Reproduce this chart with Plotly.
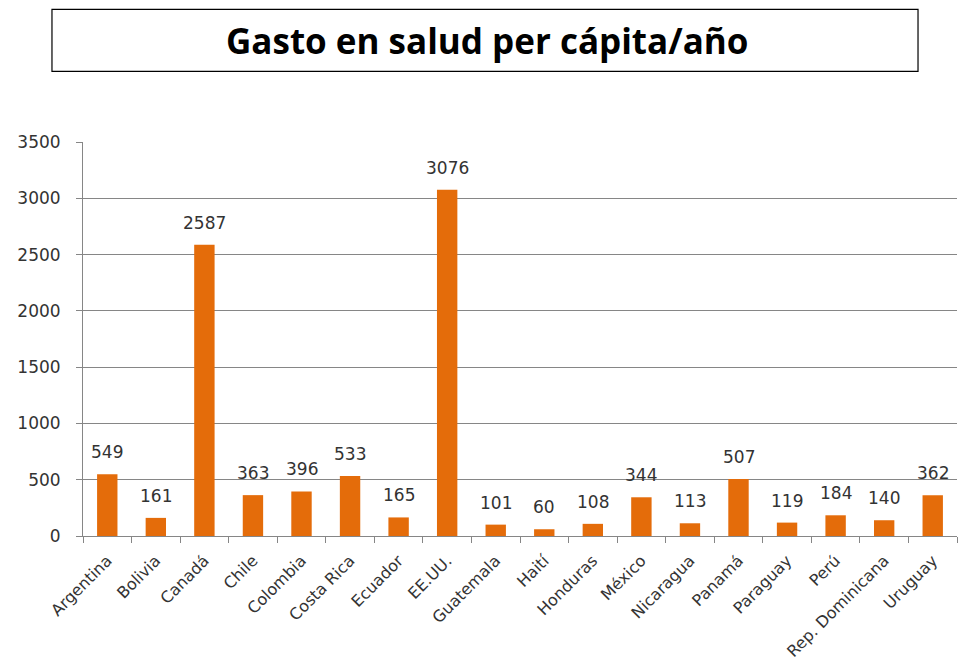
import plotly.graph_objects as go

# Health spending per capita per year, by country
paises = ["Argentina", "Bolivia", "Canadá", "Chile", "Colombia", "Costa Rica",
          "Ecuador", "EE.UU.", "Guatemala", "Haití", "Honduras", "México",
          "Nicaragua", "Panamá", "Paraguay", "Perú", "Rep. Dominicana", "Uruguay"]
gasto = [549, 161, 2587, 363, 396, 533, 165, 3076, 101, 60, 108, 344,
         113, 507, 119, 184, 140, 362]
y_ticks = [0, 500, 1000, 1500, 2000, 2500, 3000, 3500]
titulo = "Gasto en salud per cápita/año"

BAR_COLOR = "#E46C0A"
TEXT_COLOR = "#333333"
FONT = "DejaVu Sans"

fig = go.Figure()
fig.add_trace(go.Bar(
    x=paises, y=gasto,
    marker=dict(color=BAR_COLOR, line=dict(width=0)),
    width=0.42,
    hoverinfo="x+y",
))

# value labels above each bar
for p, v in zip(paises, gasto):
    fig.add_annotation(
        x=p, y=v, text=str(v), showarrow=False,
        xref="x", yref="y", yanchor="bottom", yshift=10,
        font=dict(family=FONT, size=17, color=TEXT_COLOR),
    )

# boxed title
fig.add_shape(type="rect", xref="paper", yref="paper",
              x0=-0.0355, x1=0.9554, y0=1.1793, y1=1.3366,
              line=dict(color="#000000", width=1.2), fillcolor="white")
fig.add_annotation(text=f"<b>{titulo}</b>", xref="paper", yref="paper",
                   x=0.462, y=1.258, showarrow=False,
                   xanchor="center", yanchor="middle",
                   font=dict(family="Open Sans", size=35, color="#000000"))

fig.update_layout(
    width=958, height=664,
    margin=dict(l=83, r=1, t=142, b=128),
    paper_bgcolor="white", plot_bgcolor="white",
    showlegend=False,
    bargap=0.5,
)
fig.update_xaxes(
    type="category",
    tickangle=-45,
    tickfont=dict(family=FONT, size=16, color=TEXT_COLOR),
    showline=True, linecolor="#868686", linewidth=1,
    ticks="outside", ticklen=6, tickcolor="#868686",
    tickson="boundaries",
    ticklabelstandoff=8,
    showgrid=False,
)
fig.update_yaxes(
    range=[0, 3500],
    tickvals=y_ticks,
    tickfont=dict(family=FONT, size=17, color=TEXT_COLOR),
    showline=True, linecolor="#868686", linewidth=1,
    ticks="outside", ticklen=6, tickcolor="#868686",
    ticklabelstandoff=12,
    showgrid=True, gridcolor="#868686", gridwidth=1,
    zeroline=False,
)

fig.write_html("out.html")
